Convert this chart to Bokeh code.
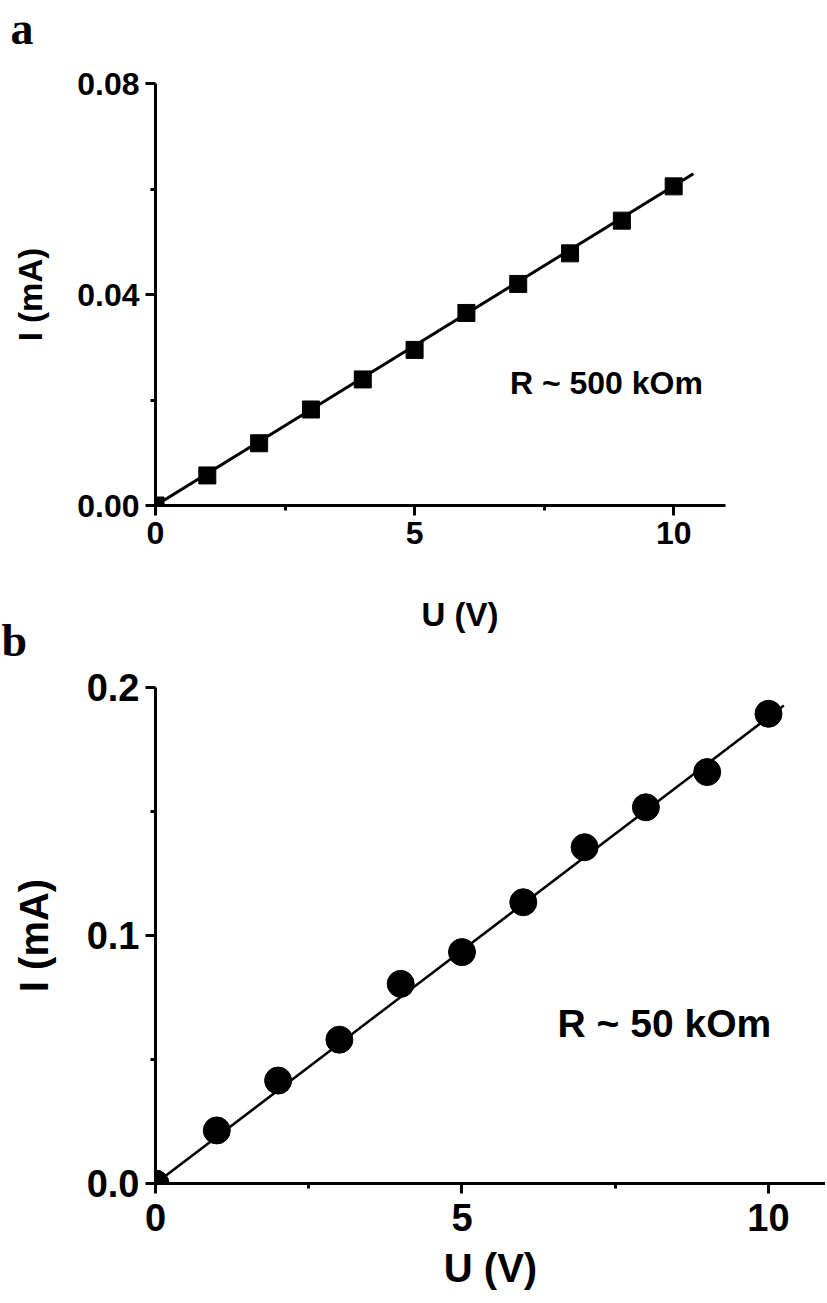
from bokeh.plotting import figure
from bokeh.layouts import column
from bokeh.models import Label, FixedTicker, Range1d, PrintfTickFormatter, Title
from bokeh.embed import file_html
from bokeh.resources import INLINE

# ---- data panel a ----
u_a = [0, 1, 2, 3, 4, 5, 6, 7, 8, 9, 10]
i_a = [0.0, 0.0057, 0.0118, 0.0182, 0.0239, 0.0295, 0.0365, 0.0420, 0.0478, 0.0540, 0.0605]
fit_u_a = [0, 10.38]
fit_i_a = [0, 0.0629]
note_a = "R ~ 500 kOm"

# ---- data panel b ----
u_b = [0, 1, 2, 3, 4, 5, 6, 7, 8, 9, 10]
i_b = [0.0, 0.0214, 0.0415, 0.0580, 0.0805, 0.0933, 0.1134, 0.1356, 0.1517, 0.1659, 0.1894]
fit_u_b = [0, 10.25]
fit_i_b = [0, 0.1927]
note_b = "R ~ 50 kOm"

x_ticks = [0, 5, 10]
x_minor = [2.5, 7.5]
y_ticks_a = [0.0, 0.04, 0.08]
y_minor_a = [0.02, 0.06]
y_ticks_b = [0.0, 0.1, 0.2]
y_minor_b = [0.05, 0.15]

SANS = "Liberation Sans"
SERIF = "Liberation Serif"


def style_axes(p, fs, lfs, xfmt, yfmt, xt, xm, yt, ym, xl_stand, yl_stand, lab_stand):
    p.xaxis.ticker = FixedTicker(ticks=xt, minor_ticks=xm)
    p.yaxis.ticker = FixedTicker(ticks=yt, minor_ticks=ym)
    p.xaxis.formatter = PrintfTickFormatter(format=xfmt)
    p.yaxis.formatter = PrintfTickFormatter(format=yfmt)
    for ax in (p.xaxis, p.yaxis):
        ax.axis_line_width = 3
        ax.axis_line_color = "black"
        ax.major_tick_line_width = 3
        ax.minor_tick_line_width = 3
        ax.major_tick_line_color = "black"
        ax.minor_tick_line_color = "black"
        ax.major_tick_in = 0
        ax.major_tick_out = 10
        ax.minor_tick_in = 0
        ax.minor_tick_out = 5
        ax.major_label_text_font = SANS
        ax.major_label_text_font_style = "bold"
        ax.major_label_text_font_size = f"{fs}px"
        ax.major_label_text_color = "black"
        ax.major_label_standoff = lab_stand
        ax.axis_label_text_font = SANS
        ax.axis_label_text_font_style = "bold"
        ax.axis_label_text_font_size = f"{lfs}px"
        ax.axis_label_text_color = "black"
    p.xaxis.axis_label_standoff = xl_stand
    p.yaxis.axis_label_standoff = yl_stand
    p.xgrid.visible = False
    p.ygrid.visible = False
    p.outline_line_color = None
    p.background_fill_alpha = 0
    p.border_fill_alpha = 0


def panel_title(p, txt, offset, standoff):
    p.title.text = txt
    p.title.align = "left"
    p.title.offset = offset
    p.title.standoff = standoff
    p.title.text_font = SERIF
    p.title.text_font_style = "bold"
    p.title.text_font_size = "46px"
    p.title.text_color = "black"


# ---------------- panel a ----------------
pa = figure(frame_width=570, frame_height=422,
            min_border_left=153, min_border_right=96,
            min_border_top=115, min_border_bottom=200,
            x_range=Range1d(0, 11), y_range=Range1d(0, 0.08),
            y_axis_label="I (mA)",
            output_backend="svg", toolbar_location=None,
            margin=(-32, 0, 0, 0))
style_axes(pa, 32, 33, "%d", "%.2f", x_ticks, x_minor, y_ticks_a, y_minor_a, 49, 25, 6)
panel_title(pa, "a", -145, 60)
pa.add_layout(Title(text="U (V)", align="left", offset=266, vertical_align="top", standoff=98,
                    text_font=SANS, text_font_style="bold", text_font_size="33px",
                    text_color="black"), "below")
pa.line(fit_u_a, fit_i_a, line_color="black", line_width=3)
pa.scatter(u_a, i_a, marker="square", size=17, fill_color="black", line_color="black")
pa.add_layout(Label(x=6.84, y=0.0232, text=note_a, text_font=SANS, text_font_style="bold",
                    text_font_size="32px", text_baseline="middle", text_color="black"))

# ---------------- panel b ----------------
pb = figure(frame_width=670, frame_height=496,
            min_border_left=155, min_border_right=0,
            min_border_top=100, min_border_bottom=118,
            x_range=Range1d(0, 10.93), y_range=Range1d(0, 0.2),
            x_axis_label="U (V)", y_axis_label="I (mA)",
            output_backend="svg", toolbar_location=None,
            margin=(-118, 0, 0, 0))
style_axes(pb, 38, 40, "%d", "%.1f", x_ticks, x_minor, y_ticks_b, y_minor_b, 12, 28, 6)
pb.xaxis.major_label_standoff = 10
panel_title(pb, "b", -154, 44)
pb.line(fit_u_b, fit_i_b, line_color="black", line_width=2.5)
pb.scatter(u_b, i_b, marker="circle", size=27, fill_color="black", line_color="black")
pb.add_layout(Label(x=6.56, y=0.0645, text=note_b, text_font=SANS, text_font_style="bold",
                    text_font_size="39px", text_baseline="middle", text_color="black"))

layout = column(pa, pb, spacing=0)
open("out.html", "w").write(file_html(layout, INLINE))
